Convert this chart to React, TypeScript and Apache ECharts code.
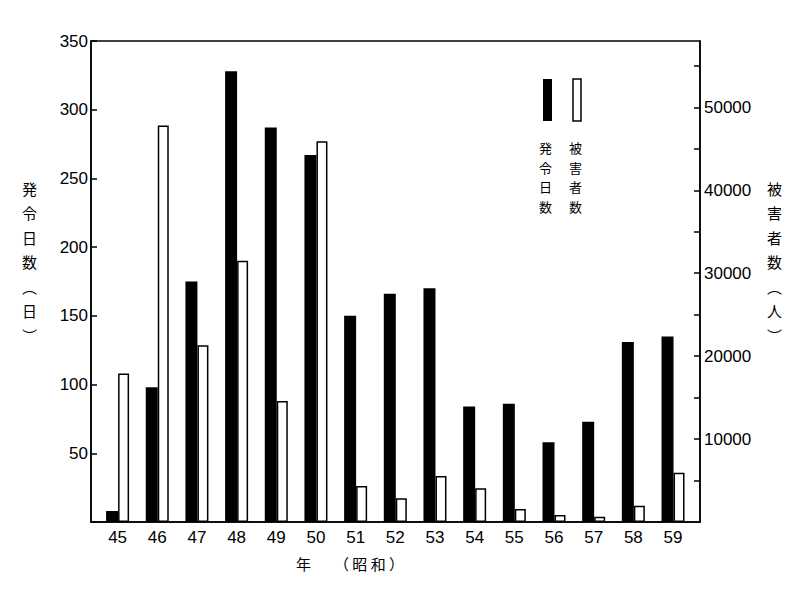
import React, { useEffect, useRef } from 'react';
import * as echarts from 'echarts';

// 年（昭和）
const years = [45, 46, 47, 48, 49, 50, 51, 52, 53, 54, 55, 56, 57, 58, 59];
// 発令日数（日）
const hatsureiDays = [8, 98, 175, 328, 287, 267, 150, 166, 170, 84, 86, 58, 73, 131, 135];
// 被害者数（人）
const higaishaCount = [17900, 47800, 21300, 31500, 14600, 45900, 4350, 2860, 5560, 4070, 1570, 850, 640, 1970, 5950];

const leftTickValues = [0, 50, 100, 150, 200, 250, 300, 350];
const rightLabelValues = [10000, 20000, 30000, 40000, 50000];
const rightTickValues = [5000, 10000, 15000, 20000, 25000, 30000, 35000, 40000, 45000, 50000, 55000];

const NUM_FONT = '"Liberation Sans", Arial, sans-serif';
const CJK_FONT = '"Noto Sans CJK JP", "Noto Sans CJK SC", sans-serif';

export default function App() {
  const ref = useRef<HTMLDivElement>(null);

  useEffect(() => {
    if (!ref.current) return;
    const chart = echarts.init(ref.current, undefined, { renderer: 'svg' });

    const axisLine = { show: true, lineStyle: { color: '#000', width: 1.5 } };

    const legendChars = (s: string, x: number) =>
      s.split('').map((ch, i) => ({
        type: 'text',
        left: x,
        top: 141 + i * 19.5,
        style: { text: ch, fill: '#000', font: `13px ${CJK_FONT}` },
      }));

    const option: any = {
      animation: false,
      backgroundColor: '#fff',
      grid: {
        left: 91,
        right: 100,
        top: 41,
        bottom: 78,
        show: true,
        borderColor: '#000',
        borderWidth: 1.5,
        backgroundColor: 'transparent',
      },
      xAxis: {
        type: 'value',
        min: 44.33,
        max: 59.68,
        axisLine,
        axisTick: { show: false },
        splitLine: { show: false },
        axisLabel: {
          customValues: years,
          formatter: (v: number) => String(v),
          color: '#000',
          fontSize: 17,
          fontFamily: NUM_FONT,
          margin: 7,
        },
      },
      yAxis: [
        {
          type: 'value',
          min: 0,
          max: 350,
          interval: 50,
          position: 'left',
          axisLine,
          axisTick: { show: true, inside: true, length: 6, lineStyle: { color: '#000', width: 1.5 } },
          splitLine: { show: false },
          axisLabel: {
            customValues: leftTickValues.filter((v) => v > 0),
            formatter: (v: number) => (v === 0 ? '' : String(v)),
            color: '#000',
            fontSize: 17,
            fontFamily: NUM_FONT,
            margin: 3,
          },
        },
        {
          type: 'value',
          min: 0,
          max: 58000,
          position: 'right',
          axisLine,
          axisTick: {
            show: true,
            inside: true,
            length: 6,
            customValues: rightTickValues,
            lineStyle: { color: '#000', width: 1.5 },
          },
          splitLine: { show: false },
          axisLabel: {
            customValues: rightLabelValues,
            formatter: (v: number) => String(v),
            color: '#000',
            fontSize: 17,
            fontFamily: NUM_FONT,
            margin: 4,
          },
        },
      ],
      series: [
        {
          name: '発令日数',
          type: 'bar',
          xAxisIndex: 0,
          yAxisIndex: 0,
          barWidth: 12,
          barGap: '0%',
          itemStyle: { color: '#000' },
          data: years.map((y, i) => [y, hatsureiDays[i]]),
        },
        {
          name: '被害者数',
          type: 'bar',
          xAxisIndex: 0,
          yAxisIndex: 1,
          barWidth: 11,
          barGap: '0%',
          itemStyle: { color: '#fff', borderColor: '#000', borderWidth: 1.5 },
          data: years.map((y, i) => [y, higaishaCount[i]]),
        },
      ],
      graphic: [
        // left axis title
        {
          type: 'text',
          left: 22,
          top: 176,
          style: {
            text: '発\n令\n日\n数\n︵\n日\n︶',
            fill: '#000',
            font: `15px ${CJK_FONT}`,
            lineHeight: 24.5,
            align: 'center',
            width: 16,
          },
        },
        // right axis title
        {
          type: 'text',
          left: 767,
          top: 176,
          style: {
            text: '被\n害\n者\n数\n︵\n人\n︶',
            fill: '#000',
            font: `15px ${CJK_FONT}`,
            lineHeight: 24.5,
            align: 'center',
            width: 16,
          },
        },
        // x axis title
        {
          type: 'text',
          left: 296,
          top: 556,
          style: { text: '年', fill: '#000', font: `15px ${CJK_FONT}` },
        },
        {
          type: 'text',
          left: 334,
          top: 556,
          style: { text: '（ 昭 和 ）', fill: '#000', font: `15px ${CJK_FONT}` },
        },
        // legend
        {
          type: 'rect',
          shape: { x: 543, y: 79, width: 9, height: 42 },
          style: { fill: '#000' },
        },
        {
          type: 'rect',
          shape: { x: 573, y: 79, width: 8, height: 42 },
          style: { fill: '#fff', stroke: '#000', lineWidth: 1.5 },
        },
        ...legendChars('発令日数', 539),
        ...legendChars('被害者数', 569),
      ],
    };

    chart.setOption(option);
    return () => {
      chart.dispose();
    };
  }, []);

  return (
    <div
      ref={ref}
      style={{ position: 'fixed', left: 0, top: 0, width: 800, height: 600, background: '#fff' }}
    />
  );
}
